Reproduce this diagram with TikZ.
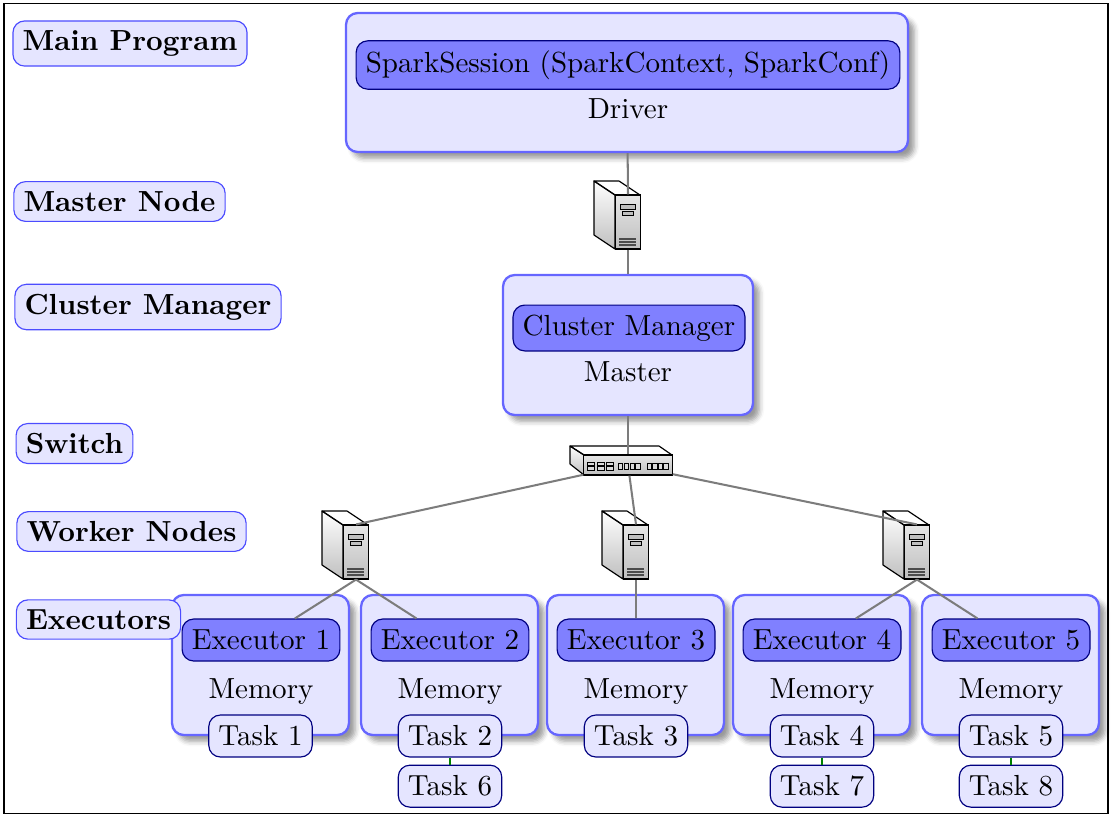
\documentclass[tikz,border=0pt]{standalone}
\usepackage{xcolor}
\usepackage{tikz}
\usetikzlibrary{positioning,shadows,shadows.blur}
\definecolor{boxfill}{HTML}{E5E5FF}
\definecolor{innerfill}{HTML}{8080FF}
\definecolor{navy}{HTML}{000080}
\definecolor{boxline}{HTML}{6666FF}
\definecolor{linkgray}{HTML}{7C7C7C}
\tikzset{
  outerbox/.style={draw=boxline, thick, rounded corners=4pt, fill=boxfill, blur shadow},
  innerbox/.style={draw=navy, rounded corners=4pt, fill=innerfill, minimum height=0.508cm},
  taskbox/.style={draw=navy, rounded corners=4pt, fill=boxfill, minimum height=0.508cm},
  labelbox/.style={draw=blue!70, rounded corners=4pt, fill=boxfill, font=\bfseries},
  netlink/.style={draw=linkgray, line width=0.7pt},
  tasklink/.style={draw=green!50!black, line width=0.7pt},
  servericon/.pic={
    \draw[line join=round, top color=white, bottom color=black!25] (-13,-27) -- (-34,-41) -- (-34,13) -- (-13,27) -- cycle;
    \draw[line join=round] (-34,-41) -- (-9,-41) -- (12,-27) -- (-13,-27) -- cycle;
    \node[draw, top color=white!90!black, bottom color=black!25, minimum width=0.3025cm, minimum height=0.653cm, inner sep=0pt] (-front) at (0,0) {};
    \draw[fill=black!25, line width=0.3pt] (-8,-18) rectangle (7,-13) (-6,-11) rectangle (5,-7);
    \draw[line width=0.5pt, draw=black!70] (-9,17) -- (8,17) (-9,20) -- (8,20) (-9,23) -- (8,23);
  },
  switchicon/.pic={
    \draw[line join=round, top color=white, bottom color=black!25] (-44,-10) -- (-58,-19) -- (-58,-1) -- (-44,10) -- cycle;
    \draw[line join=round] (-58,-19) -- (31,-19) -- (44,-10) -- (-44,-10) -- cycle;
    \node[draw, top color=white!90!black, bottom color=black!25, minimum width=1.07cm, minimum height=0.242cm, inner sep=0pt] (-front) at (0,0) {};
    \draw[fill=white!85!black, line width=0.3pt] (-41,-3) rectangle (-34,0.5) (-41,1.5) rectangle (-34,5) (-31,-3) rectangle (-24,0.5) (-31,1.5) rectangle (-24,5) (-22,-3) rectangle (-15,0.5) (-22,1.5) rectangle (-15,5);
    \draw[fill=white!85!black, line width=0.3pt] (-10,-2) rectangle (-5.5,4) (-4,-2) rectangle (0.5,4) (2,-2) rectangle (6.5,4) (7.5,-2) rectangle (12,4);
    \draw[fill=white!85!black, line width=0.3pt] (19,-2) rectangle (23.5,4) (24.8,-2) rectangle (29.3,4) (30.2,-2) rectangle (34.7,4) (35.5,-2) rectangle (40,4);
  }
}
\begin{document}
\begin{tikzpicture}[x=0.0121cm, y=-0.0121cm]
  \useasboundingbox (0,0) rectangle (1114,820);
  \node[draw, minimum width=13.36cm, minimum height=9.81cm, inner sep=0pt] (frame) at (556,408.5) {};
  % driver
  \node[outerbox, minimum width=6.80cm, minimum height=1.682cm] (driver) at (627,82.5) {};
  \node[innerbox] (session) at (628,65) {SparkSession (SparkContext, SparkConf)};
  \node[inner sep=0pt] (drivertxt) at (628,109) {Driver};
  % master
  \pic (srvM) at (628,222) {servericon};
  \node[outerbox, minimum width=3.025cm, minimum height=1.694cm] (master) at (628,345) {};
  \node[innerbox] (manager) at (629,328) {Cluster Manager};
  \node[inner sep=0pt] (mastertxt) at (628,372) {Master};
  \pic (sw) at (628,465) {switchicon};
  % workers
  \pic (srvA) at (356,552) {servericon};
  \pic (srvB) at (636,552) {servericon};
  \pic (srvC) at (917,552) {servericon};
  % executors
  \node[outerbox, minimum width=2.14cm, minimum height=1.694cm] (boxA) at (260.5,665) {};
  \node[outerbox, minimum width=2.14cm, minimum height=1.694cm] (boxB) at (449.5,665) {};
  \node[outerbox, minimum width=2.14cm, minimum height=1.694cm] (boxC) at (635.5,665) {};
  \node[outerbox, minimum width=2.14cm, minimum height=1.694cm] (boxD) at (821.5,665) {};
  \node[outerbox, minimum width=2.14cm, minimum height=1.694cm] (boxE) at (1010.5,665) {};
  \node[innerbox] (execA) at (261,640) {Executor 1};
  \node[innerbox] (execB) at (450,640) {Executor 2};
  \node[innerbox] (execC) at (636,640) {Executor 3};
  \node[innerbox] (execD) at (822,640) {Executor 4};
  \node[innerbox] (execE) at (1011,640) {Executor 5};
  \node[inner sep=0pt] (memA) at (261,692) {Memory};
  \node[inner sep=0pt] (memB) at (450,692) {Memory};
  \node[inner sep=0pt] (memC) at (636,692) {Memory};
  \node[inner sep=0pt] (memD) at (822,692) {Memory};
  \node[inner sep=0pt] (memE) at (1011,692) {Memory};
  \node[taskbox] (taskA) at (260.5,736) {Task 1};
  \node[taskbox] (taskB) at (450,736) {Task 2};
  \node[taskbox] (taskC) at (636,736) {Task 3};
  \node[taskbox] (taskD) at (822,736) {Task 4};
  \node[taskbox] (taskE) at (1011,736) {Task 5};
  \node[taskbox, below=0.085cm of taskB] (taskF) {Task 6};
  \node[taskbox, below=0.085cm of taskD] (taskG) {Task 7};
  \node[taskbox, below=0.085cm of taskE] (taskH) {Task 8};
  % links
  \draw[netlink] (driver) -- (srvM-front.north);
  \draw[netlink] (srvM-front.south) -- (master);
  \draw[netlink] (master) -- (sw-front.north);
  \draw[netlink] (sw-front) -- (srvA-front.north);
  \draw[netlink] (sw-front) -- (srvB-front.north);
  \draw[netlink] (sw-front) -- (srvC-front.north);
  \draw[netlink] (srvA-front.south) -- (execA);
  \draw[netlink] (srvA-front.south) -- (execB);
  \draw[netlink] (srvB-front.south) -- (execC);
  \draw[netlink] (srvC-front.south) -- (execD);
  \draw[netlink] (srvC-front.south) -- (execE);
  \draw[tasklink] (taskB) -- (taskF);
  \draw[tasklink] (taskD) -- (taskG);
  \draw[tasklink] (taskE) -- (taskH);
  % row labels
  \node[labelbox] (lmain) at (130,43.5) {Main Program};
  \node[labelbox] (lmaster) at (119.5,201.5) {Master Node};
  \node[labelbox] (lcluster) at (148,307) {Cluster Manager};
  \node[labelbox] (lswitch) at (74.5,443.5) {Switch};
  \node[labelbox] (lworker) at (131.5,531.5) {Worker Nodes};
  \node[labelbox] (lexec) at (98.5,619.5) {Executors};
\end{tikzpicture}
\end{document}
